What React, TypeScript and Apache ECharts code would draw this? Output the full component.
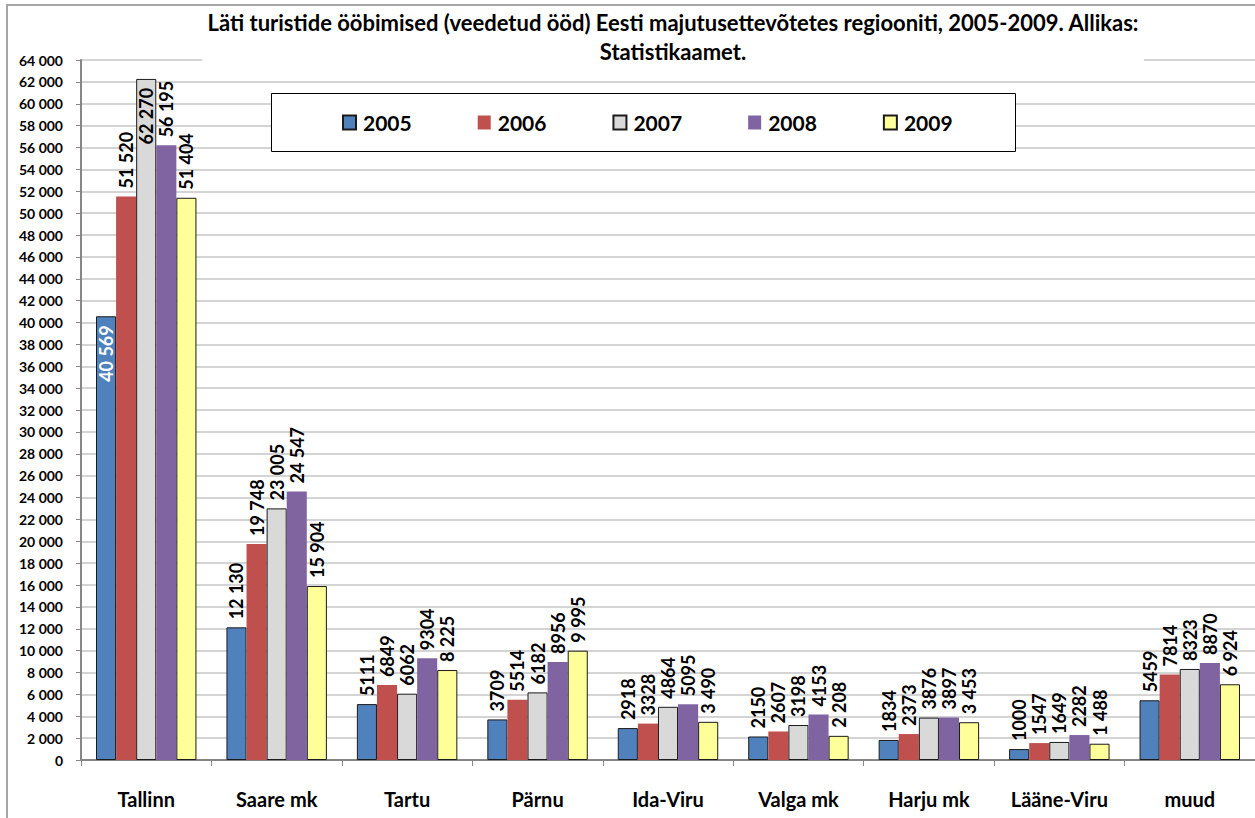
import React, { useEffect, useRef } from "react";
import * as echarts from "echarts";

const categories = ["Tallinn", "Saare mk", "Tartu", "Pärnu", "Ida-Viru", "Valga mk", "Harju mk", "Lääne-Viru", "muud"];
const years = ["2005", "2006", "2007", "2008", "2009"];
const v2005 = [40569, 12130, 5111, 3709, 2918, 2150, 1834, 1000, 5459];
const v2006 = [51520, 19748, 6849, 5514, 3328, 2607, 2373, 1547, 7814];
const v2007 = [62270, 23005, 6062, 6182, 4864, 3198, 3876, 1649, 8323];
const v2008 = [56195, 24547, 9304, 8956, 5095, 4153, 3897, 2282, 8870];
const v2009 = [51404, 15904, 8225, 9995, 3490, 2208, 3453, 1488, 6924];
const yTicks = { min: 0, max: 64000, interval: 2000 };
const titleText = "Läti turistide ööbimised (veedetud ööd) Eesti majutusettevõtetes regiooniti, 2005-2009. Allikas:\nStatistikaamet.";

const FONT = "Lato, 'Open Sans', sans-serif";
const colors = ["#4F81BD", "#C0504D", "#D9D9D9", "#8064A2", "#FFFF99"];
const borders = ["#1a1a1a", "transparent", "#1a1a1a", "transparent", "#1a1a1a"];

const sep = (v: number) => String(v).replace(/\B(?=(\d{3})+(?!\d))/g, " ");

export default function App() {
  const ref = useRef<HTMLDivElement>(null);
  useEffect(() => {
    if (!ref.current) return;
    const chart = echarts.init(ref.current, undefined, { renderer: "svg" });
    const all = [v2005, v2006, v2007, v2008, v2009];
    const series = all.map((vals, si) => ({
      name: years[si],
      type: "bar",
      barGap: "0%",
      barCategoryGap: "23%",
      itemStyle: {
        color: colors[si],
        borderColor: borders[si],
        borderWidth: borders[si] === "transparent" ? 0 : 1,
      },
      label: {
        show: true,
        position: "top",
        rotate: 90,
        align: "left",
        verticalAlign: "middle",
        distance: 8,
        fontFamily: FONT,
        fontWeight: "bold",
        fontSize: 18,
        color: "#000",
        formatter: (p: any) => (si === 4 || p.value >= 10000 ? sep(p.value) : String(p.value)),
      },
      data: vals.map((v, ci) => {
        if (ci === 0 && (si === 0 || si === 2)) {
          return {
            value: v,
            label: {
              position: "insideTop",
              align: "right",
              distance: 9,
              color: si === 0 ? "#fff" : "#000",
            },
          };
        }
        return v;
      }),
    }));

    chart.setOption({
      animation: false,
      backgroundColor: "#fff",
      title: {
        text: titleText,
        left: 668,
        top: 4,
        textAlign: "center",
        backgroundColor: "#fff",
        padding: [4, 5, 2, 5],
        textStyle: {
          fontFamily: FONT,
          fontWeight: "bold",
          fontSize: 22,
          lineHeight: 29,
          color: "#000",
        },
      },
      legend: {
        data: years,
        left: 337,
        top: 107,
        itemWidth: 13,
        itemHeight: 14,
        itemGap: 66,
        icon: "rect",
        textStyle: { fontFamily: FONT, fontWeight: "bold", fontSize: 21, color: "#000", padding: [0, 0, 0, 2] },
        z: 5,
      },
      graphic: [
        {
          type: "rect",
          z: 3,
          shape: { x: 271.5, y: 93.5, width: 744, height: 58 },
          style: { fill: "#fff", stroke: "#000", lineWidth: 1 },
        },
        {
          type: "rect",
          z: 10,
          silent: true,
          shape: { x: 7, y: 5, width: 1300, height: 900 },
          style: { fill: "none", stroke: "#a6a6a6", lineWidth: 2 },
        },
      ],
      grid: { left: 81, right: 0, top: 60, bottom: 58, containLabel: false },
      xAxis: {
        type: "category",
        data: categories,
        axisLine: { show: true, lineStyle: { color: "#868686", width: 2 } },
        axisTick: { show: true, length: 6, lineStyle: { color: "#868686" } },
        axisLabel: {
          margin: 29,
          fontFamily: FONT,
          fontWeight: "bold",
          fontSize: 20,
          color: "#000",
          interval: 0,
        },
      },
      yAxis: {
        type: "value",
        min: yTicks.min,
        max: yTicks.max,
        interval: yTicks.interval,
        axisLine: { show: true, lineStyle: { color: "#868686", width: 2 } },
        axisTick: { show: true, length: 5, lineStyle: { color: "#868686" } },
        splitLine: { show: true, lineStyle: { color: "#c6c6c6", width: 1.5 } },
        axisLabel: {
          margin: 18,
          fontFamily: FONT,
          fontWeight: "bold",
          fontSize: 14,
          color: "#000",
          formatter: (v: number) => sep(v),
        },
      },
      series,
    });
    return () => chart.dispose();
  }, []);
  return <div ref={ref} style={{ position: "absolute", left: 0, top: 0, width: 1255, height: 818 }} />;
}
